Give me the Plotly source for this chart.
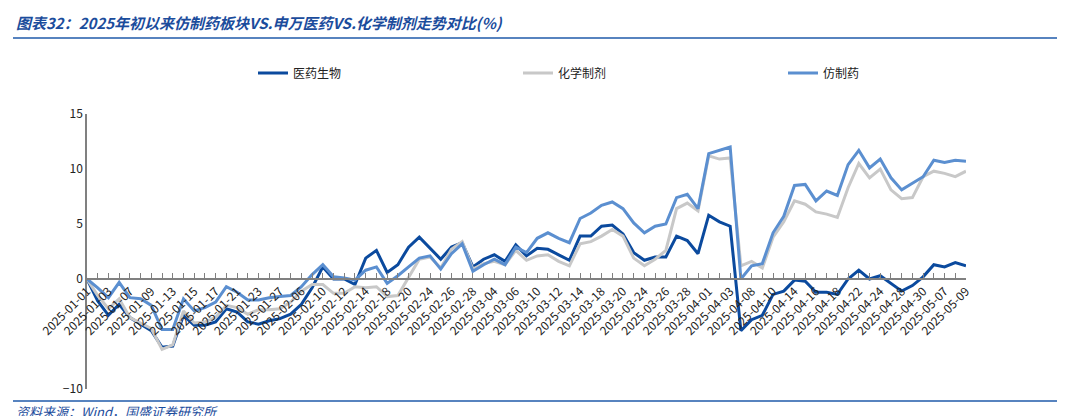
import plotly.graph_objects as go

# trading days, 2025-01-01 is the base
dates = ["2025-01-01", "2025-01-02", "2025-01-03", "2025-01-06", "2025-01-07", "2025-01-08", "2025-01-09",
         "2025-01-10", "2025-01-13", "2025-01-14", "2025-01-15", "2025-01-16", "2025-01-17", "2025-01-20",
         "2025-01-21", "2025-01-22", "2025-01-23", "2025-01-24", "2025-01-27", "2025-02-05", "2025-02-06",
         "2025-02-07", "2025-02-10", "2025-02-11", "2025-02-12", "2025-02-13", "2025-02-14", "2025-02-17",
         "2025-02-18", "2025-02-19", "2025-02-20", "2025-02-21", "2025-02-24", "2025-02-25", "2025-02-26",
         "2025-02-27", "2025-02-28", "2025-03-03", "2025-03-04", "2025-03-05", "2025-03-06", "2025-03-07",
         "2025-03-10", "2025-03-11", "2025-03-12", "2025-03-13", "2025-03-14", "2025-03-17", "2025-03-18",
         "2025-03-19", "2025-03-20", "2025-03-21", "2025-03-24", "2025-03-25", "2025-03-26", "2025-03-27",
         "2025-03-28", "2025-03-31", "2025-04-01", "2025-04-02", "2025-04-03", "2025-04-07", "2025-04-08",
         "2025-04-09", "2025-04-10", "2025-04-11", "2025-04-14", "2025-04-15", "2025-04-16", "2025-04-17",
         "2025-04-18", "2025-04-21", "2025-04-22", "2025-04-23", "2025-04-24", "2025-04-25", "2025-04-28",
         "2025-04-29", "2025-04-30", "2025-05-06", "2025-05-07", "2025-05-08", "2025-05-09"]

yiyao = [0, -2.0, -3.3, -2.3, -3.5, -4.1, -4.7, -6.2, -6.1, -3.3, -4.2, -4.2, -3.9, -2.7, -3.0, -3.9, -4.1,
         -3.8, -3.6, -3.2, -2.3, -0.8, 1.1, 0.0, 0.0, -0.5, 1.9, 2.6, 0.6, 1.3, 2.9, 3.8, 2.8, 1.8, 2.9, 3.3,
         1.1, 1.8, 2.2, 1.6, 3.1, 2.1, 2.8, 2.7, 2.2, 1.7, 3.9, 3.9, 4.8, 4.9, 4.1, 2.4, 1.7, 2.0, 2.0, 3.9,
         3.5, 2.3, 5.8, 5.2, 4.8, -4.7, -3.7, -3.3, -1.4, -1.1, -0.1, -0.2, -1.2, -1.2, -1.4, 0.0, 0.8, 0.0,
         0.3, -0.4, -1.1, -0.6, 0.2, 1.3, 1.1, 1.5, 1.2]

huaxue = [0, -1.5, -2.7, -1.8, -3.5, -4.0, -4.5, -6.4, -6.0, -2.9, -4.0, -3.9, -3.5, -2.4, -2.6, -3.2, -2.8,
          -2.8, -2.7, -2.1, -1.1, -0.5, -0.5, -1.3, -1.3, -0.7, -0.8, -0.7, -1.6, -1.5, 0.2, 1.8, 2.0, 1.0,
          2.7, 3.4, 0.9, 1.4, 1.6, 1.3, 2.6, 1.7, 2.1, 2.2, 1.6, 1.2, 3.2, 3.4, 3.9, 4.5, 3.9, 1.9, 1.2, 1.8,
          2.6, 6.4, 6.9, 6.2, 11.2, 10.9, 11.0, 1.2, 1.6, 1.0, 3.8, 5.2, 7.1, 6.8, 6.1, 5.9, 5.6, 8.3, 10.5,
          9.2, 10.0, 8.1, 7.3, 7.4, 9.3, 9.8, 9.6, 9.3, 9.8]

fangzhi = [0, -0.8, -1.7, -0.3, -1.7, -1.8, -2.4, -4.6, -4.6, -1.8, -2.9, -2.6, -2.1, -0.7, -1.2, -1.9, -1.9,
           -1.7, -1.6, -1.5, -0.7, 0.4, 1.3, 0.2, 0.1, -0.1, 0.8, 1.1, -0.4, 0.3, 1.1, 1.9, 2.1, 0.9, 2.3,
           3.2, 0.7, 1.3, 1.8, 1.3, 2.9, 2.4, 3.7, 4.2, 3.7, 3.3, 5.5, 6.0, 6.7, 7.0, 6.4, 5.1, 4.2, 4.8,
           5.0, 7.4, 7.7, 6.4, 11.4, 11.7, 12.0, 0.0, 1.2, 1.4, 4.2, 5.7, 8.5, 8.6, 7.1, 8.0, 7.6, 10.4,
           11.7, 10.1, 10.9, 9.2, 8.1, 8.7, 9.3, 10.8, 10.6, 10.8, 10.7]

names = ["医药生物", "化学制剂", "仿制药"]
colors = ["#0B4A9E", "#C8C8C8", "#5B8FD0"]

fig = go.Figure()
for name, vals, c in zip(names, [yiyao, huaxue, fangzhi], colors):
    fig.add_trace(go.Scatter(x=dates, y=vals, mode="lines", name=name,
                             line=dict(color=c, width=3)))

# label every other trading day
ticktext = [d if i % 2 == 0 else "" for i, d in enumerate(dates)]

W, H = 879, 275  # plot area in px
fig.update_layout(
    width=1065, height=416,
    margin=dict(l=79, r=107, t=106, b=35, autoexpand=False),
    plot_bgcolor="white", paper_bgcolor="white",
    font=dict(family="Noto Sans CJK SC, DejaVu Sans", size=12, color="#222222"),
    legend=dict(orientation="h", x=(245 - 79) / W, xanchor="left", y=1 + (106 - 65) / H, yanchor="middle",
                font=dict(size=12), entrywidth=220, entrywidthmode="pixels"),
    showlegend=True,
    xaxis=dict(type="category", range=[0, len(dates) - 1], tickvals=dates, ticktext=ticktext,
               tickangle=-45, ticks="inside", ticklen=5, tickcolor="#808080",
               showline=True, linecolor="#808080", linewidth=1.5, showgrid=False,
               anchor="free", position=0.4, tickfont=dict(size=12, color="#222222")),
    yaxis=dict(range=[-10, 15], tickvals=[-10, 0, 5, 10, 15], showgrid=False, zeroline=False,
               showline=True, linecolor="#808080", linewidth=1.5, ticks="",
               tickfont=dict(size=12, color="#222222")),
)

fig.add_annotation(text="<b><i>图表32：2025年初以来仿制药板块VS.申万医药VS.化学制剂走势对比(%)</i></b>",
                   xref="paper", yref="paper", x=-73 / W, y=1 + 91 / H, xanchor="left", yanchor="middle",
                   showarrow=False, font=dict(size=15, color="#1B4C9C"))
fig.add_annotation(text="<i>资料来源：Wind，国盛证券研究所</i>",
                   xref="paper", yref="paper", x=-73 / W, y=-22 / H, xanchor="left", yanchor="middle",
                   showarrow=False, font=dict(size=13, color="#1B4C9C"))
fig.add_shape(type="line", xref="paper", yref="paper", x0=-74 / W, x1=1 + 102 / W,
              y0=1 + 76 / H, y1=1 + 76 / H, line=dict(color="#1F5AAA", width=1.5))
fig.add_shape(type="line", xref="paper", yref="paper", x0=-74 / W, x1=1 + 102 / W,
              y0=-12 / H, y1=-12 / H, line=dict(color="#1F5AAA", width=1.5))

fig.write_html("out.html")
